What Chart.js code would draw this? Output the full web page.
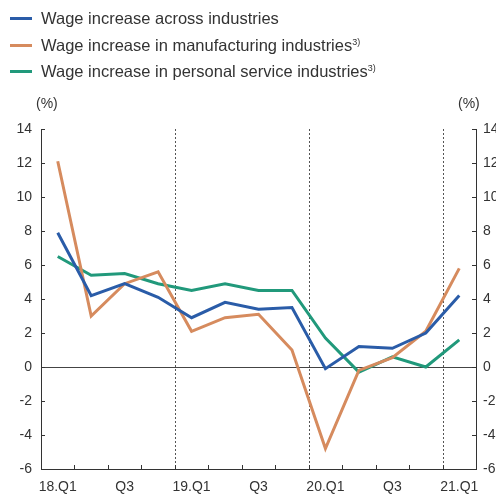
<!DOCTYPE html>
<html>
<head>
<meta charset="utf-8">
<script src="https://cdn.jsdelivr.net/npm/chart.js@4"></script>
<style>
  html, body { margin:0; padding:0; overflow:hidden; background:#fff; width:496px; height:494px; }
  #wrap { position:absolute; left:0; top:0; width:496px; height:494px; overflow:hidden; }
  canvas { position:absolute; left:0; top:0; }
  #legend { position:absolute; left:0; top:0; font-family:"Liberation Sans", Arial, sans-serif; font-size:16.5px; color:#333; }
  .row { position:absolute; left:0; height:20px; white-space:nowrap; }
  .sw { position:absolute; left:10px; width:22px; height:3px; top:9px; }
  .lbl { position:absolute; left:41px; top:0; line-height:20px; }
  .lbl sup { font-size:9px; vertical-align:6px; line-height:0; }
  .unit { position:absolute; font-family:"Liberation Sans", Arial, sans-serif; font-size:14px; color:#333; line-height:16px; }
</style>
</head>
<body>
<div id="wrap">
  <canvas id="c" width="512" height="494"></canvas>
  <div id="legend"></div>
  <div class="unit" style="left:36px; top:95px;">(%)</div>
  <div class="unit" style="left:458px; top:95px;">(%)</div>
</div>
<script>
const categories = ['18.Q1','18.Q2','18.Q3','18.Q4','19.Q1','19.Q2','19.Q3','19.Q4','20.Q1','20.Q2','20.Q3','20.Q4','21.Q1'];
const tickLabels = ['18.Q1','','Q3','','19.Q1','','Q3','','20.Q1','','Q3','','21.Q1'];
const yearStarts = ['19.Q1','20.Q1','21.Q1'];
const seriesNames = ['Wage increase across industries','Wage increase in manufacturing industries','Wage increase in personal service industries'];
const seriesNotes = ['', '3)', '3)'];
const acrossIndustries = [7.9, 4.2, 4.9, 4.1, 2.9, 3.8, 3.4, 3.5, -0.1, 1.2, 1.1, 2.0, 4.2];
const manufacturing   = [12.1, 3.0, 4.9, 5.6, 2.1, 2.9, 3.1, 1.0, -4.8, -0.2, 0.55, 2.1, 5.8];
const personalService = [6.5, 5.4, 5.5, 4.9, 4.5, 4.9, 4.5, 4.5, 1.7, -0.3, 0.6, 0.0, 1.6];
const yMin = -6, yMax = 14, yStep = 2;
const colors = ['#2a5ca8', '#d68b5e', '#21997b'];

const AXIS = '#333';

const decorPlugin = {
  id: 'decor',
  beforeDatasetsDraw(chart) {
    const ctx = chart.ctx, a = chart.chartArea;
    const x = chart.scales.x, y = chart.scales.y;
    ctx.save();
    const y0 = Math.round(y.getPixelForValue(0)) + 0.5;
    ctx.strokeStyle = '#444'; ctx.lineWidth = 1;
    ctx.beginPath(); ctx.moveTo(a.left, y0); ctx.lineTo(a.right, y0); ctx.stroke();
    const half = (x.getPixelForValue(1) - x.getPixelForValue(0)) / 2;
    ctx.setLineDash([2, 2]); ctx.strokeStyle = '#555';
    yearStarts.forEach(c => {
      const i = categories.indexOf(c);
      const px = Math.round(x.getPixelForValue(i) - half) + 0.5;
      ctx.beginPath(); ctx.moveTo(px, y.getPixelForValue(yMax)); ctx.lineTo(px, a.bottom); ctx.stroke();
    });
    ctx.setLineDash([]);
    ctx.strokeStyle = AXIS;
    for (let v = yMin; v <= yMax; v += yStep) {
      const py = Math.round(y.getPixelForValue(v)) + 0.5;
      ctx.beginPath(); ctx.moveTo(a.left, py); ctx.lineTo(a.left + 4, py); ctx.stroke();
      ctx.beginPath(); ctx.moveTo(a.right, py); ctx.lineTo(a.right - 4, py); ctx.stroke();
    }
    for (let i = 1; i < categories.length; i++) {
      const px = Math.round(x.getPixelForValue(i) - half) + 0.5;
      ctx.beginPath(); ctx.moveTo(px, a.bottom); ctx.lineTo(px, a.bottom - 4); ctx.stroke();
    }
    ctx.restore();
  }
};

const data = [acrossIndustries, manufacturing, personalService];
const chart = new Chart(document.getElementById('c'), {
  type: 'line',
  data: {
    labels: categories,
    datasets: data.map((d, i) => ({
      label: seriesNames[i], data: d, borderColor: colors[i], backgroundColor: colors[i],
      borderWidth: 3, pointRadius: 0, tension: 0, yAxisID: 'y'
    }))
  },
  options: {
    responsive: false, animation: false, devicePixelRatio: 1,
    layout: { padding: { top: 129, left: 0, right: 0, bottom: 0 } },
    plugins: { legend: { display: false }, tooltip: { enabled: false } },
    scales: {
      x: {
        offset: true,
        grid: { display: false, drawTicks: false },
        border: { display: true, color: AXIS, width: 1 },
        ticks: { autoSkip: false, maxRotation: 0, padding: 10, color: '#333',
          font: { family: 'Liberation Sans', size: 14 },
          callback: (v, i) => tickLabels[i] },
        afterFit: s => { s.height = 25; }
      },
      y: {
        position: 'left', min: yMin, max: yMax,
        grid: { display: false, drawTicks: false },
        border: { display: true, color: AXIS, width: 1 },
        ticks: { stepSize: yStep, padding: 9, color: '#333', font: { family: 'Liberation Sans', size: 14 } },
        afterFit: s => { s.width = 41; }
      },
      y2: {
        position: 'right', min: yMin, max: yMax,
        grid: { display: false, drawTicks: false },
        border: { display: true, color: AXIS, width: 1 },
        ticks: { stepSize: yStep, padding: 7, color: '#333', font: { family: 'Liberation Sans', size: 14 } },
        afterFit: s => { s.width = 512 - 476; }
      }
    }
  },
  plugins: [decorPlugin]
});

const leg = document.getElementById('legend');
chart.data.datasets.forEach((ds, i) => {
  const row = document.createElement('div');
  row.className = 'row';
  row.style.top = (8 + i * 26.5) + 'px';
  const sw = document.createElement('div');
  sw.className = 'sw'; sw.style.background = ds.borderColor;
  const lbl = document.createElement('div');
  lbl.className = 'lbl';
  lbl.textContent = ds.label;
  if (seriesNotes[i]) { const s = document.createElement('sup'); s.textContent = seriesNotes[i]; lbl.appendChild(s); }
  row.appendChild(sw); row.appendChild(lbl);
  leg.appendChild(row);
});
</script>
</body>
</html>
